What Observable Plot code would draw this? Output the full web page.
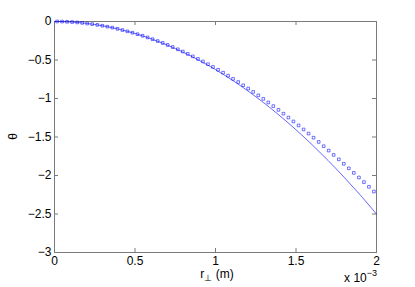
<!DOCTYPE html>
<html><head><meta charset="utf-8">
<script src="https://cdn.jsdelivr.net/npm/d3@7"></script>
<script src="https://cdn.jsdelivr.net/npm/@observablehq/plot@0.6"></script>
<style>
body{margin:0;background:#fff}
#chart{width:415px;height:287px}
</style>
</head><body><div id="chart"></div>
<script>
// x in units of 1e-3 m
const xTicks = [0, 0.5, 1, 1.5, 2];
const xTickLabels = ["0", "0.5", "1", "1.5", "2"];
const yTicks = [0, -0.5, -1, -1.5, -2, -2.5, -3];
const yTickLabels = ["0", "\u22120.5", "\u22121", "\u22121.5", "\u22122", "\u22122.5", "\u22123"];

const lineR = [0, 0.1, 0.2, 0.3, 0.4, 0.5, 0.6, 0.7, 0.8, 0.9, 1.0, 1.1, 1.2, 1.3, 1.4, 1.5, 1.6, 1.7, 1.8, 1.9, 2.0];
const lineTheta = [0, -0.006, -0.025, -0.056, -0.1, -0.156, -0.225, -0.306, -0.4, -0.506, -0.625, -0.756, -0.9, -1.056, -1.225, -1.406, -1.6, -1.806, -2.025, -2.256, -2.5];

const markerR = [0.016,0.047,0.078,0.109,0.141,0.172,0.203,0.234,0.266,0.297,0.328,0.359,0.391,0.422,0.453,0.484,
  0.516,0.547,0.578,0.609,0.641,0.672,0.703,0.734,0.766,0.797,0.828,0.859,0.891,0.922,0.953,0.984,
  1.016,1.047,1.078,1.109,1.141,1.172,1.203,1.234,1.266,1.297,1.328,1.359,1.391,1.422,1.453,1.484,
  1.516,1.547,1.578,1.609,1.641,1.672,1.703,1.734,1.766,1.797,1.828,1.859,1.891,1.922,1.953,1.984];
const markerTheta = [0,-0.001,-0.004,-0.007,-0.012,-0.018,-0.026,-0.034,-0.044,-0.055,-0.067,-0.080,-0.095,-0.111,-0.128,-0.146,
  -0.165,-0.185,-0.207,-0.230,-0.254,-0.279,-0.305,-0.332,-0.361,-0.390,-0.421,-0.453,-0.486,-0.519,-0.554,-0.590,
  -0.627,-0.665,-0.704,-0.745,-0.786,-0.828,-0.871,-0.914,-0.959,-1.005,-1.052,-1.099,-1.148,-1.197,-1.247,-1.298,
  -1.350,-1.402,-1.455,-1.509,-1.564,-1.620,-1.676,-1.733,-1.790,-1.848,-1.907,-1.966,-2.026,-2.086,-2.147,-2.208];

const lineData = lineR.map((r, i) => ({r, t: lineTheta[i]}));
const markerData = markerR.map((r, i) => ({r, t: markerTheta[i]}));

const W = 415, H = 287;
const mL = 54, mR = 39, mT = 21, mB = 35;
const plotH = H - mT - mB, plotW = W - mL - mR;
const axisColor = "#7a7a7a";
const tickLen = 4;
const FONT = "'Liberation Sans', Arial, sans-serif";

const svg = Plot.plot({
  width: W, height: H,
  marginLeft: mL, marginRight: mR, marginTop: mT, marginBottom: mB,
  style: {fontFamily: FONT, fontSize: "12px", background: "#fff", color: "#000"},
  x: {domain: [0, 2]},
  y: {domain: [-3, 0]},
  marks: [
    // inward tick marks on all four sides
    Plot.tickX(xTicks, {x: d => d, insetTop: plotH - tickLen, stroke: axisColor, strokeWidth: 1}),
    Plot.tickX(xTicks, {x: d => d, insetBottom: plotH - tickLen, stroke: axisColor, strokeWidth: 1}),
    Plot.tickY(yTicks, {y: d => d, insetRight: plotW - tickLen, stroke: axisColor, strokeWidth: 1}),
    Plot.tickY(yTicks, {y: d => d, insetLeft: plotW - tickLen, stroke: axisColor, strokeWidth: 1}),
    Plot.frame({stroke: axisColor, strokeWidth: 1}),
    Plot.axisX({anchor: "bottom", ticks: xTicks, tickSize: 0, tickPadding: 4,
      tickFormat: (d) => xTickLabels[xTicks.indexOf(d)], label: null, fill: "#000"}),
    Plot.axisY({anchor: "left", ticks: yTicks, tickSize: 0, tickPadding: 3,
      tickFormat: (d) => yTickLabels[yTicks.indexOf(d)], label: null, fill: "#000"}),
    Plot.line(lineData, {x: "r", y: "t", stroke: "#0000ff", strokeWidth: 0.6, curve: "catmull-rom"}),
    Plot.dot(markerData, {x: "r", y: "t", symbol: "square", r: 1.5, stroke: "#0000ff", strokeWidth: 0.55, fill: "none"})
  ]
});
document.getElementById("chart").append(svg);

const xs = svg.scale("x"), ys = svg.scale("y");
const s = d3.select(svg);
// x label: r⊥ (m)
const xl = s.append("text")
  .attr("x", xs.apply(1) + 2).attr("y", H - 9)
  .attr("text-anchor", "middle").attr("fill", "#000").attr("font-size", 12).attr("font-family", FONT);
xl.append("tspan").text("r");
xl.append("tspan").attr("font-size", 9).attr("dy", 3).text("\u22a5");
xl.append("tspan").attr("dy", -3).text(" (m)");
// exponent label: x 10^-3, right-aligned with the axis end
const ex = s.append("text")
  .attr("x", xs.apply(2) + 1).attr("y", H - 5)
  .attr("text-anchor", "end")
  .attr("fill", "#000").attr("font-size", 12).attr("font-family", FONT);
ex.append("tspan").text("x 10");
ex.append("tspan").attr("font-size", 9).attr("dy", -6).text("\u22123");
// y label θ (rotated)
s.append("text")
  .attr("transform", `translate(17,${ys.apply(-1.5)}) rotate(-90)`)
  .attr("text-anchor", "middle").attr("fill", "#000").attr("font-size", 12).attr("font-family", FONT)
  .text("\u03b8");
</script>
</body></html>
